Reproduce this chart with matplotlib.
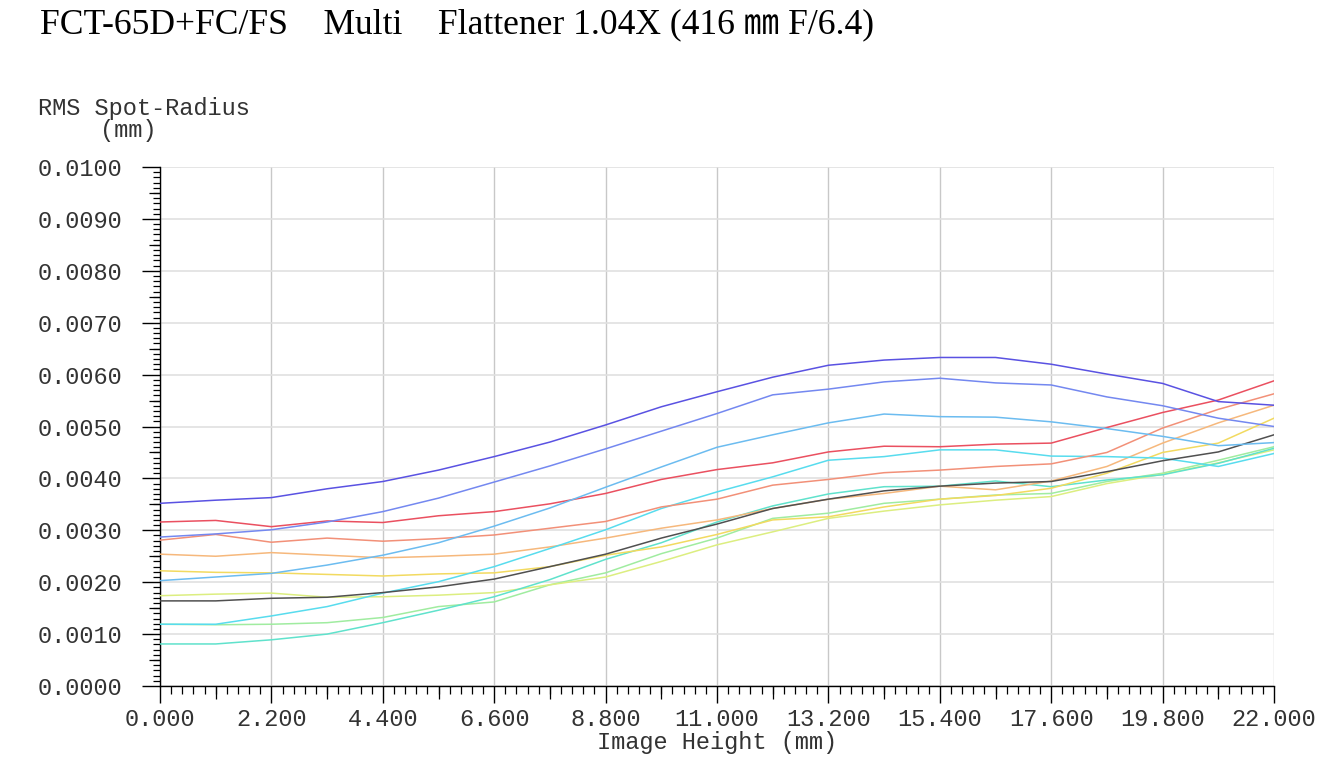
import matplotlib
matplotlib.use("Agg")
import matplotlib.pyplot as plt
from matplotlib.ticker import MultipleLocator, FixedLocator

# ---------------- data ----------------
image_height = [0.0, 1.1, 2.2, 3.3, 4.4, 5.5, 6.6, 7.7, 8.8, 9.9, 11.0,
                12.1, 13.2, 14.3, 15.4, 16.5, 17.6, 18.7, 19.8, 20.9, 22.0]

violet = [0.00352, 0.00358, 0.00363, 0.00380, 0.00394, 0.00416, 0.00442, 0.00470, 0.00503, 0.00538, 0.00567,
          0.00595, 0.00618, 0.00628, 0.00633, 0.00633, 0.00620, 0.00601, 0.00583, 0.00548, 0.00541]
blue = [0.00287, 0.00293, 0.00301, 0.00316, 0.00336, 0.00362, 0.00393, 0.00424, 0.00457, 0.00491, 0.00525,
        0.00561, 0.00572, 0.00586, 0.00593, 0.00584, 0.00580, 0.00557, 0.00540, 0.00516, 0.00500]
sky = [0.00203, 0.00210, 0.00217, 0.00233, 0.00252, 0.00276, 0.00308, 0.00343, 0.00383, 0.00422, 0.00460,
       0.00484, 0.00507, 0.00524, 0.00519, 0.00518, 0.00509, 0.00496, 0.00481, 0.00463, 0.00469]
red = [0.00316, 0.00319, 0.00307, 0.00318, 0.00315, 0.00328, 0.00336, 0.00351, 0.00371, 0.00398, 0.00417,
       0.00430, 0.00451, 0.00462, 0.00461, 0.00466, 0.00468, 0.00498, 0.00527, 0.00551, 0.00588]
salmon = [0.00281, 0.00292, 0.00277, 0.00285, 0.00279, 0.00284, 0.00291, 0.00304, 0.00317, 0.00345, 0.00360,
          0.00387, 0.00398, 0.00411, 0.00416, 0.00423, 0.00428, 0.00450, 0.00497, 0.00533, 0.00563]
orange = [0.00254, 0.00250, 0.00257, 0.00252, 0.00247, 0.00250, 0.00254, 0.00268, 0.00285, 0.00304, 0.00320,
          0.00342, 0.00360, 0.00371, 0.00385, 0.00378, 0.00395, 0.00423, 0.00468, 0.00507, 0.00541]
yellow = [0.00222, 0.00219, 0.00218, 0.00215, 0.00212, 0.00216, 0.00218, 0.00230, 0.00252, 0.00268, 0.00292,
          0.00320, 0.00326, 0.00345, 0.00360, 0.00367, 0.00381, 0.00410, 0.00450, 0.00468, 0.00516]
black = [0.00164, 0.00164, 0.00169, 0.00171, 0.00180, 0.00191, 0.00206, 0.00230, 0.00254, 0.00285, 0.00312,
         0.00342, 0.00360, 0.00376, 0.00385, 0.00391, 0.00394, 0.00413, 0.00434, 0.00451, 0.00484]
cyan = [0.00119, 0.00119, 0.00135, 0.00153, 0.00179, 0.00201, 0.00230, 0.00265, 0.00301, 0.00342, 0.00374,
        0.00403, 0.00435, 0.00442, 0.00455, 0.00455, 0.00443, 0.00442, 0.00439, 0.00423, 0.00448]
turquoise = [0.00081, 0.00081, 0.00089, 0.00100, 0.00122, 0.00146, 0.00172, 0.00205, 0.00244, 0.00276, 0.00316,
             0.00347, 0.00370, 0.00384, 0.00385, 0.00395, 0.00384, 0.00397, 0.00407, 0.00429, 0.00458]
light_green = [0.00119, 0.00118, 0.00119, 0.00122, 0.00132, 0.00153, 0.00162, 0.00195, 0.00218, 0.00255, 0.00285,
               0.00323, 0.00333, 0.00352, 0.00360, 0.00368, 0.00371, 0.00394, 0.00410, 0.00435, 0.00461]
yellow_green = [0.00174, 0.00177, 0.00179, 0.00171, 0.00172, 0.00175, 0.00180, 0.00195, 0.00210, 0.00240, 0.00272,
                0.00297, 0.00323, 0.00337, 0.00349, 0.00358, 0.00365, 0.00390, 0.00408, 0.00430, 0.00455]

series = [
    (light_green, '#a0eca0'),
    (yellow_green, '#dcee80'),
    (turquoise, '#60e2cc'),
    (yellow, '#f2da60'),
    (orange, '#f6b87c'),
    (cyan, '#58dcee'),
    (black, '#505050'),
    (salmon, '#f29078'),
    (red, '#ea5060'),
    (sky, '#6cbcf0'),
    (blue, '#7488f0'),
    (violet, '#5a52e2'),
]

x_ticks = [0.0, 2.2, 4.4, 6.6, 8.8, 11.0, 13.2, 15.4, 17.6, 19.8, 22.0]
x_tick_labels = ['0.000', '2.200', '4.400', '6.600', '8.800', '11.000',
                 '13.200', '15.400', '17.600', '19.800', '22.000']
y_ticks = [0.0, 0.001, 0.002, 0.003, 0.004, 0.005, 0.006, 0.007, 0.008, 0.009, 0.010]
y_tick_labels = ['0.0000', '0.0010', '0.0020', '0.0030', '0.0040', '0.0050',
                 '0.0060', '0.0070', '0.0080', '0.0090', '0.0100']

title = 'FCT-65D+FC/FS\u3000Multi\u3000Flattener 1.04X (416 \u339c F/6.4)'

# ---------------- figure ----------------
W, H = 1337, 760
fig = plt.figure(figsize=(W / 100, H / 100), dpi=100)
fig.patch.set_facecolor('white')
ax = fig.add_axes([160 / W, 1 - 686 / H, (1274 - 160) / W, (686 - 167) / H])

mono = 'Liberation Mono'
txt_col = '#333333'

for vals, col in series:
    ax.plot(image_height, vals, color=col, lw=1.1, solid_joinstyle='round', zorder=3)

ax.set_xlim(0, 22)
ax.set_ylim(0, 0.010)

ax.xaxis.set_major_locator(FixedLocator(x_ticks))
ax.set_xticklabels(x_tick_labels)
ax.xaxis.set_minor_locator(MultipleLocator(0.22))
ax.yaxis.set_major_locator(FixedLocator(y_ticks))
ax.set_yticklabels(y_tick_labels)
ax.yaxis.set_minor_locator(MultipleLocator(0.0001))

ax.grid(True, which='major', axis='x', color='#c8c8c8', lw=1.0, zorder=0)
ax.grid(True, which='major', axis='y', color='#e0e0e0', lw=1.2, zorder=0)

ax.tick_params(axis='x', which='major', direction='out', length=12, width=1.0,
               color='black', pad=4, labelsize=17, labelcolor=txt_col)
ax.tick_params(axis='x', which='minor', direction='out', length=6, width=0.9, color='black')
ax.tick_params(axis='y', which='major', direction='out', length=13, width=1.0,
               color='black', pad=14, labelsize=17, labelcolor=txt_col)
ax.tick_params(axis='y', which='minor', direction='out', length=5, width=0.9, color='black')
for lab in ax.get_xticklabels() + ax.get_yticklabels():
    lab.set_family(mono)

# medium ticks at half steps
secx = ax.secondary_xaxis('bottom')
secx.set_xticks([1.1 + 2.2 * i for i in range(10)])
secx.tick_params(axis='x', direction='out', length=9, width=0.9, color='black', labelbottom=False)
secx.spines['bottom'].set_visible(False)
secy = ax.secondary_yaxis('left')
secy.set_yticks([0.0005 + 0.001 * i for i in range(10)])
secy.tick_params(axis='y', direction='out', length=8, width=0.9, color='black', labelleft=False)
secy.spines['left'].set_visible(False)

for side in ['top', 'right']:
    ax.spines[side].set_visible(False)
ax.spines['left'].set_color('black')
ax.spines['bottom'].set_color('black')
ax.spines['left'].set_linewidth(1.0)
ax.spines['bottom'].set_linewidth(1.0)

ax.set_xlabel('Image Height (mm)', family=mono, fontsize=17, color=txt_col, labelpad=0)

fig.text(38 / W, 1 - 108 / H, 'RMS Spot-Radius', family=mono, fontsize=17,
         color=txt_col, ha='left', va='center')
fig.text(128 / W, 1 - 130 / H, '(mm)', family=mono, fontsize=17,
         color=txt_col, ha='center', va='center')

fig.text(40 / W, 1 - 25 / H, title, family=['Liberation Serif', 'Noto Sans CJK JP', 'DejaVu Sans'],
         fontsize=25.6, color='black', ha='left', va='center')

fig.savefig('out.png', dpi=100, facecolor='white')
